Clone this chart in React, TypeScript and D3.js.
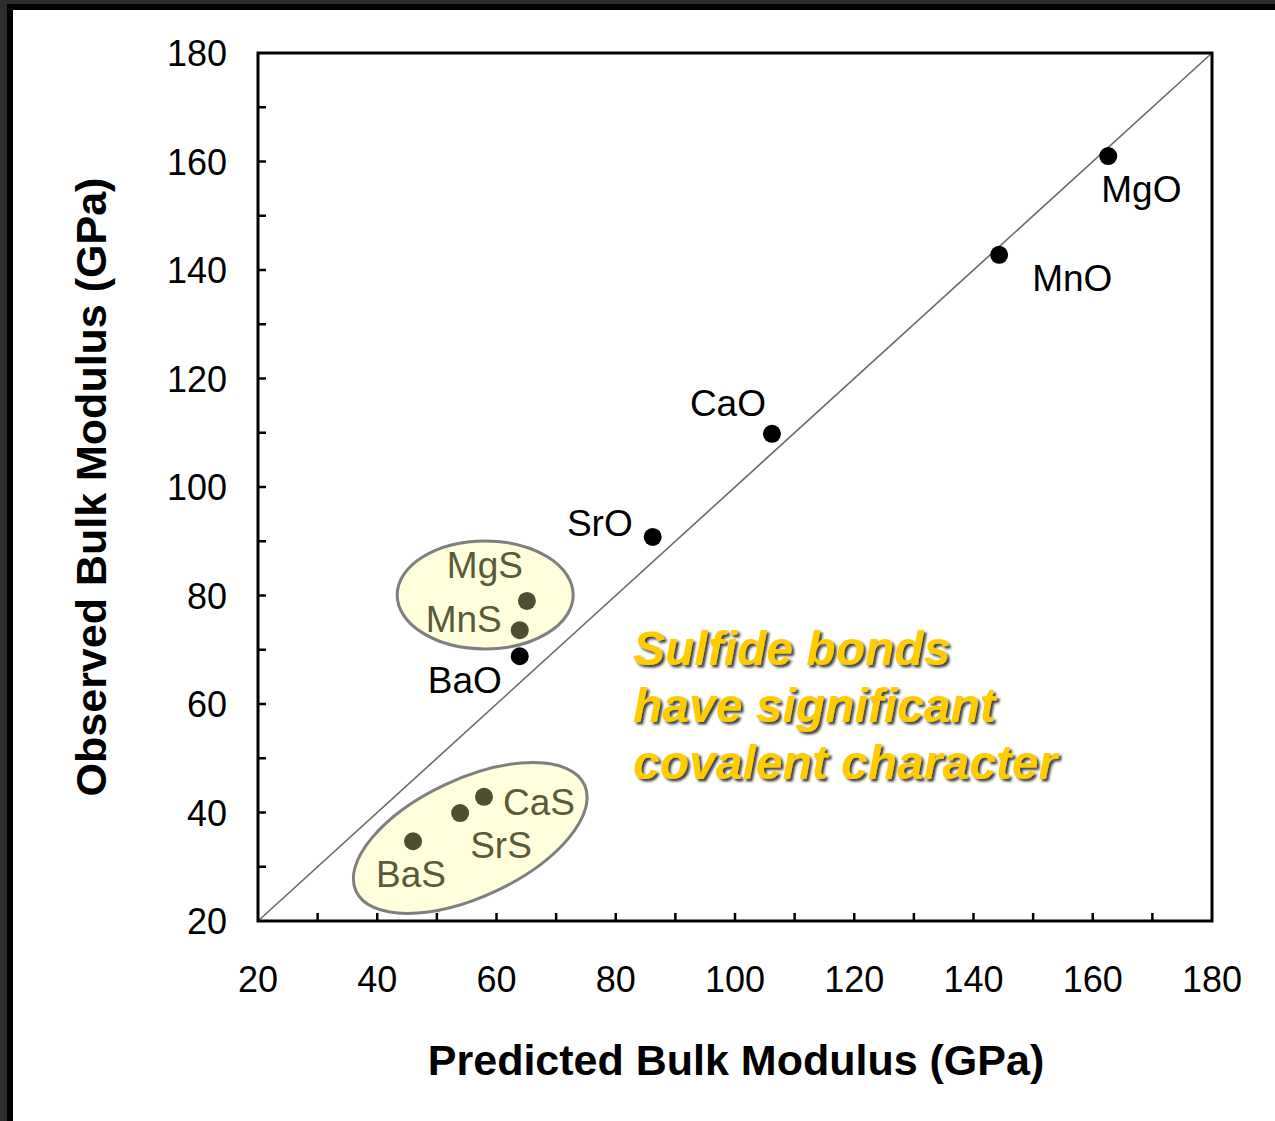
import React from 'react';
import * as d3 from 'd3';

// predicted vs observed bulk modulus (GPa)
const oxideNames = ['MgO', 'MnO', 'CaO', 'SrO', 'BaO'];
const oxidePredicted = [162.6, 144.3, 106.2, 86.2, 63.9];
const oxideObserved = [161.0, 142.8, 109.8, 90.8, 68.8];

const sulfideNames = ['MgS', 'MnS', 'CaS', 'SrS', 'BaS'];
const sulfidePredicted = [65.1, 63.9, 57.9, 53.9, 46.0];
const sulfideObserved = [79.0, 73.6, 42.9, 39.9, 34.7];

const axisTicks = [20, 40, 60, 80, 100, 120, 140, 160, 180];
const minorTicks = d3.range(30, 180, 10);

const noteLines = ['Sulfide bonds', 'have significant', 'covalent character'];

// label placement relative to the dot (px)
const labelPos: Record<string, { dx: number; dy: number; anchor: string }> = {
  MgO: { dx: -7, dy: 46, anchor: 'start' },
  MnO: { dx: 33, dy: 36, anchor: 'start' },
  CaO: { dx: -6, dy: -18, anchor: 'end' },
  SrO: { dx: -20, dy: -1, anchor: 'end' },
  BaO: { dx: -18, dy: 37, anchor: 'end' },
  MgS: { dx: -4, dy: -23, anchor: 'end' },
  MnS: { dx: -18, dy: 2, anchor: 'end' },
  CaS: { dx: 19, dy: 18, anchor: 'start' },
  SrS: { dx: 10, dy: 45, anchor: 'start' },
  BaS: { dx: -37, dy: 46, anchor: 'start' },
};

const W = 1275;
const H = 1121;
const left = 258, right = 1212, top = 53, bottom = 921;
const font = '"Liberation Sans", Arial, sans-serif';
const olive = '#4e4e30';

export default function App() {
  const x = d3.scaleLinear().domain([20, 180]).range([left, right]);
  const y = d3.scaleLinear().domain([20, 180]).range([bottom, top]);

  const oxides = oxideNames.map((n, i) => ({ n, px: oxidePredicted[i], py: oxideObserved[i] }));
  const sulfides = sulfideNames.map((n, i) => ({ n, px: sulfidePredicted[i], py: sulfideObserved[i] }));

  const diag = d3.line<number>().x(d => x(d)).y(d => y(d))([20, 180]) || '';

  // highlight ellipses, centre in data units
  const upperC = [x(58.1), y(80.1)];
  const lowerC = [x(55.6), y(35.3)];

  return (
    <svg width={W} height={H} style={{ position: 'absolute', left: 0, top: 0, display: 'block' }}>
      <defs>
        <filter id="shadow" x="-10%" y="-10%" width="120%" height="130%">
          <feDropShadow dx="2.5" dy="2.5" stdDeviation="1.2" floodColor="#222" floodOpacity="0.85" />
        </filter>
      </defs>
      {/* slide frame */}
      <rect x={0} y={0} width={W} height={H} fill="#2d2d2d" />
      <rect x={7} y={4} width={W - 7} height={H - 4} fill="#000" />
      <rect x={13} y={10} width={W - 13} height={H - 10} fill="#fff" />

      {/* ellipses */}
      <ellipse cx={upperC[0]} cy={upperC[1]} rx={88} ry={54} fill="#ffffdc" stroke="#7f7f7f" strokeWidth={3} />
      <ellipse cx={0} cy={0} rx={126} ry={59} fill="#ffffdc" stroke="#7f7f7f" strokeWidth={3}
        transform={`translate(${lowerC[0]},${lowerC[1]}) rotate(-25)`} />

      {/* diagonal */}
      <path d={diag} stroke="#6a6a6a" strokeWidth={1.6} fill="none" />

      {/* ticks */}
      {minorTicks.map(t => (
        <g key={t}>
          <line x1={x(t)} x2={x(t)} y1={bottom} y2={bottom - 8} stroke="#000" strokeWidth={2.5} />
          <line x1={left} x2={left + 8} y1={y(t)} y2={y(t)} stroke="#000" strokeWidth={2.5} />
        </g>
      ))}
      <rect x={left} y={top} width={right - left} height={bottom - top} fill="none" stroke="#000" strokeWidth={3} />

      {axisTicks.map(t => (
        <g key={t} fontFamily={font} fontSize={36} fill="#000">
          <text x={x(t)} y={992} textAnchor="middle">{t}</text>
          <text x={227} y={y(t) + 13} textAnchor="end">{t}</text>
        </g>
      ))}

      {/* points */}
      {oxides.map(d => (
        <g key={d.n}>
          <circle cx={x(d.px)} cy={y(d.py)} r={9} fill="#000" />
          <text x={x(d.px) + labelPos[d.n].dx} y={y(d.py) + labelPos[d.n].dy} textAnchor={labelPos[d.n].anchor}
            fontFamily={font} fontSize={37} fill="#000">{d.n}</text>
        </g>
      ))}
      {sulfides.map(d => (
        <g key={d.n}>
          <circle cx={x(d.px)} cy={y(d.py)} r={9} fill={olive} />
          <text x={x(d.px) + labelPos[d.n].dx} y={y(d.py) + labelPos[d.n].dy} textAnchor={labelPos[d.n].anchor}
            fontFamily={font} fontSize={37} fill="#5a5a38">{d.n}</text>
        </g>
      ))}

      {/* note */}
      <g filter="url(#shadow)">
        {noteLines.map((l, i) => (
          <text key={l} x={633} y={665 + i * 57} fontFamily={font} fontSize={48} fontWeight="bold"
            fontStyle="italic" fill="#ffcc00">{l}</text>
        ))}
      </g>

      {/* axis titles */}
      <text x={736} y={1075} textAnchor="middle" fontFamily={font} fontSize={43}
        fontWeight="bold" fill="#000">Predicted Bulk Modulus (GPa)</text>
      <text transform={`translate(106,${(top + bottom) / 2}) rotate(-90)`} textAnchor="middle"
        fontFamily={font} fontSize={43} fontWeight="bold" fill="#000">Observed Bulk Modulus (GPa)</text>
    </svg>
  );
}
